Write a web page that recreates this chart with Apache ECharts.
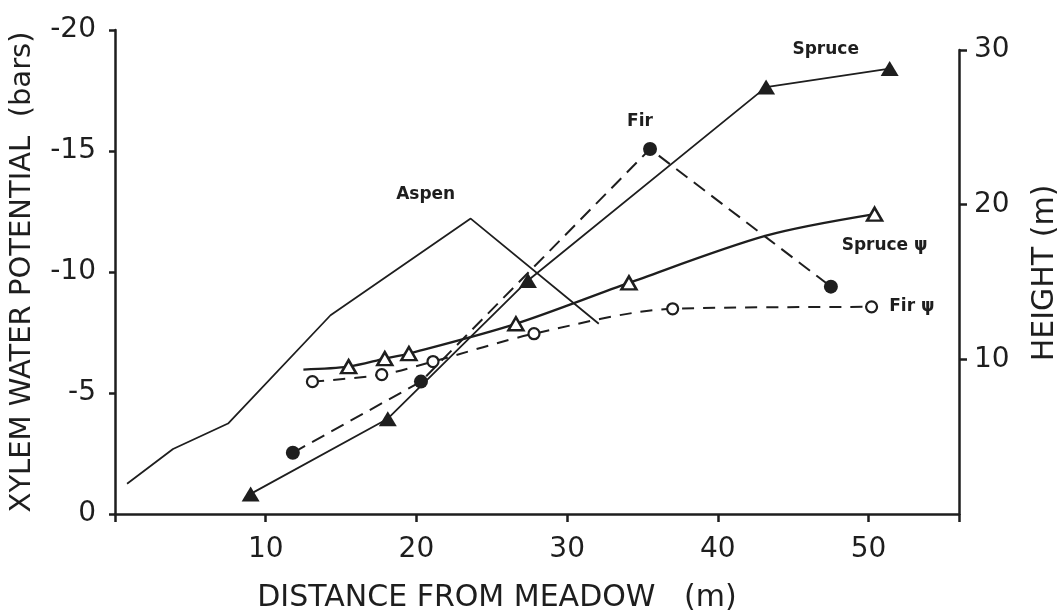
<!DOCTYPE html>
<html>
<head>
<meta charset="utf-8">
<script src="https://cdn.jsdelivr.net/npm/echarts@6/dist/echarts.min.js"></script>
<style>
  html, body { margin: 0; padding: 0; background: #fff; }
  #container { width: 1061px; height: 614px; }
</style>
</head>
<body>
<div id="container"></div>
<script>
// distance from meadow (m) / value pairs
var aspenHeight = [[0.8, 1.95], [3.85, 4.2], [7.5, 5.85], [14.3, 12.85], [23.6, 19.1], [32.1, 12.3]];
var firHeight = [[11.8, 3.96], [20.3, 8.56], [35.5, 23.6], [47.5, 14.7]];
var spruceHeight = [[9.0, 1.3], [18.1, 6.16], [27.4, 15.1], [43.2, 27.6], [51.4, 28.8]];
// xylem water potential (bars)
var sprucePsi = [[12.5, -5.97], [15.5, -6.09], [17.9, -6.42], [19.5, -6.63], [26.6, -7.86], [34.1, -9.55], [43.2, -11.5], [50.4, -12.39]];
var sprucePsiNoMark = [0, 6]; // points, no symbol there
var firPsi = [[13.1, -5.47], [17.7, -5.76], [21.1, -6.3], [27.8, -7.45], [37.0, -8.48], [50.2, -8.56]];

var xTicks = [10, 20, 30, 40, 50];
var psiTicks = [-20, -15, -10, -5, 0];
var heightTicks = [10, 20, 30];

var ink = '#1e1e1e';
var font = 'DejaVu Sans';

var dom = document.getElementById('container');
var myChart = echarts.init(dom, null, { renderer: 'canvas' });

function labelled(data, idx, text, pos, offset) {
    return data.map(function (p, i) {
        if (i != idx) return p;
        return {
            value: p,
            label: {
                show: true, formatter: text, position: pos, offset: offset,
                color: ink, fontFamily: font, fontSize: 17, fontWeight: 'bold'
            }
        };
    });
}

var sprucePsiData = labelled(sprucePsi, sprucePsi.length - 1, 'Spruce \u03c8', 'bottom', [10, 10]);
sprucePsiNoMark.forEach(function (i) {
    sprucePsiData[i] = { value: sprucePsi[i], symbol: 'none' };
});

var tickLabel = { color: ink, fontFamily: font, fontSize: 28 };
var titleStyle = { color: ink, fontFamily: font, fontSize: 29 };

var option = {
    animation: false,
    grid: [
        { left: 115, right: 102, top: 30, bottom: 100, outerBoundsMode: 'none', containLabel: false },
        { left: 115, right: 102, top: 50, bottom: 100, outerBoundsMode: 'none', containLabel: false }
    ],
    xAxis: [
        {
            type: 'value', gridIndex: 0, min: 0, max: 56, interval: 10, position: 'bottom',
            name: 'DISTANCE FROM MEADOW   (m)', nameLocation: 'middle', nameGap: 69,
            nameTextStyle: Object.assign({ padding: [0, 80, 0, 0] }, titleStyle, { fontSize: 30 }),
            axisLine: { show: true, onZero: false, lineStyle: { color: ink, width: 2.5 } },
            axisTick: { show: true, inside: false, length: 8, lineStyle: { color: ink, width: 2.5 } },
            axisLabel: Object.assign({
                margin: 22,
                formatter: function (v) { return xTicks.indexOf(v) >= 0 ? String(v) : ''; }
            }, tickLabel),
            splitLine: { show: false }
        },
        {
            type: 'value', gridIndex: 1, min: 0, max: 56, position: 'bottom',
            axisLine: { show: false, onZero: false }, axisTick: { show: false },
            axisLabel: { show: false }, splitLine: { show: false }
        }
    ],
    yAxis: [
        {
            type: 'value', gridIndex: 0, min: -20, max: 0, interval: 5, inverse: true, position: 'left',
            name: 'XYLEM WATER POTENTIAL  (bars)', nameLocation: 'middle', nameGap: 78, nameRotate: 90,
            nameTextStyle: titleStyle,
            axisLine: { show: true, onZero: false, lineStyle: { color: ink, width: 2.5 } },
            axisTick: { show: true, inside: false, length: 6, lineStyle: { color: ink, width: 2.5 } },
            axisLabel: Object.assign({
                margin: 19,
                formatter: function (v) { return psiTicks.indexOf(v) >= 0 ? String(v) : ''; }
            }, tickLabel),
            splitLine: { show: false }
        },
        {
            type: 'value', gridIndex: 1, min: 0, max: 30, interval: 10, position: 'right',
            name: 'HEIGHT (m)', nameLocation: 'middle', nameGap: 71, nameRotate: 90,
            nameTextStyle: Object.assign({ padding: [0, 0, 0, 18] }, titleStyle, { fontSize: 30 }),
            axisLine: { show: true, onZero: false, lineStyle: { color: ink, width: 2.5 } },
            axisTick: { show: true, inside: false, length: 8, customValues: heightTicks, lineStyle: { color: ink, width: 2.5 } },
            axisLabel: Object.assign({ margin: 15, customValues: heightTicks }, tickLabel),
            splitLine: { show: false }
        }
    ],
    series: [
        {
            name: 'Aspen', type: 'line', xAxisIndex: 1, yAxisIndex: 1,
            data: labelled(aspenHeight, 4, 'Aspen', 'top', [-45, -10]),
            symbol: 'circle', symbolSize: 1,
            itemStyle: { color: 'rgba(0,0,0,0)' },
            lineStyle: { color: ink, width: 1.8 }
        },
        {
            name: 'Fir', type: 'line', xAxisIndex: 1, yAxisIndex: 1,
            data: labelled(firHeight, 2, 'Fir', 'top', [-10, -7]),
            symbol: 'circle', symbolSize: 14,
            itemStyle: { color: ink },
            lineStyle: { color: ink, width: 2, type: [14, 8] }
        },
        {
            name: 'Spruce', type: 'line', xAxisIndex: 1, yAxisIndex: 1,
            data: labelled(spruceHeight, 4, 'Spruce', 'top', [-64, 2]),
            symbol: 'triangle', symbolSize: [18, 15],
            itemStyle: { color: ink },
            lineStyle: { color: ink, width: 1.8 }
        },
        {
            name: 'Spruce psi', type: 'line', xAxisIndex: 0, yAxisIndex: 0,
            data: sprucePsiData,
            smooth: 0.3,
            symbol: 'triangle', symbolSize: [15, 13],
            itemStyle: { color: '#fff', borderColor: ink, borderWidth: 2.5 },
            lineStyle: { color: ink, width: 2.3 }
        },
        {
            name: 'Fir psi', type: 'line', xAxisIndex: 0, yAxisIndex: 0,
            data: labelled(firPsi, firPsi.length - 1, 'Fir \u03c8', 'right', [6, 0]),
            smooth: 0.3,
            symbol: 'circle', symbolSize: 11,
            itemStyle: { color: '#fff', borderColor: ink, borderWidth: 2.2 },
            lineStyle: { color: ink, width: 2, type: [12, 9] }
        }
    ]
};

myChart.setOption(option);
window.addEventListener('resize', myChart.resize);
</script>
</body>
</html>
